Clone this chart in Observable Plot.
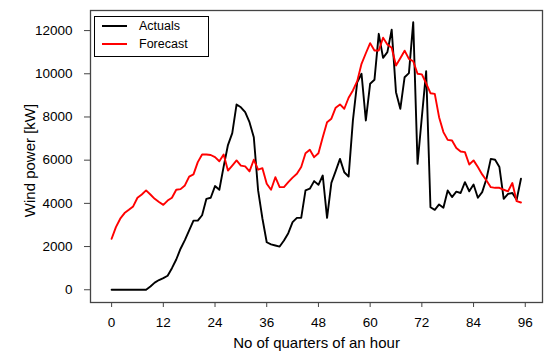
<!DOCTYPE html>
<html>
<head>
<meta charset="utf-8">
<script src="https://cdn.jsdelivr.net/npm/d3@7"></script>
<script src="https://cdn.jsdelivr.net/npm/@observablehq/plot@0.6"></script>
<style>
  html, body { margin: 0; padding: 0; background: #fff; }
  #wrap { position: relative; width: 550px; height: 358px; font-family: "Liberation Sans", Arial, sans-serif; }
  #legend { position: absolute; left: 94px; top: 16px; width: 113px; height: 39px; border: 1.5px solid #000; background: #fff; }
  .item { position: absolute; left: 0; height: 18px; display: flex; align-items: center; font-size: 12.5px; color: #000; }
  .item svg { margin-left: 7px; margin-right: 12px; }
</style>
</head>
<body>
<div id="wrap"></div>
<script>
// Data (index = quarter of an hour, 0..95)
const actuals = [
  0, 0, 0, 0, 0, 0, 0, 0, 0, 150,
  330, 450, 540, 650, 1000, 1400, 1900, 2300, 2750, 3200,
  3200, 3450, 4210, 4260, 4800, 4630, 5700, 6700, 7250, 8580,
  8450, 8220, 7760, 7060, 4600, 3300, 2200, 2100, 2050, 2000,
  2280, 2620, 3130, 3330, 3330, 4600, 4680, 5030, 4860, 5290,
  3330, 4950, 5490, 6060, 5440, 5240, 7840, 9610, 10000, 7840,
  9540, 9720, 11850, 10740, 11000, 12040, 9150, 8380, 9840, 10030,
  12390, 5830, 8000, 10120, 3820, 3700, 3950, 3800, 4600, 4290,
  4540, 4480, 4980, 4560, 4870, 4260, 4520, 5140, 6060, 6020,
  5680, 4210, 4440, 4480, 4170, 5140
];
const forecast = [
  2360, 2900, 3290, 3550, 3700, 3860, 4260, 4410, 4600, 4410,
  4210, 4060, 3930, 4130, 4260, 4630, 4660, 4830, 5240, 5340,
  5910, 6260, 6260, 6240, 6140, 5950, 6260, 5520, 5750, 5990,
  5750, 5710, 5480, 6020, 5560, 5630, 4910, 4630, 5210, 4750,
  4750, 4980, 5190, 5370, 5680, 6320, 6480, 6140, 6320, 7060,
  7760, 7920, 8430, 8580, 8380, 8890, 9230, 9660, 10460, 10950,
  11420, 11080, 11080, 11670, 11360, 11200, 10380, 10720, 11070, 10690,
  10580, 10000, 9970, 9560, 9100, 9070, 7990, 7300, 6940, 6910,
  6560, 6400, 6370, 5800, 5990, 5680, 5340, 5060, 4750, 4720,
  4720, 4630, 4560, 4940, 4100, 4040
];
const seriesNames = ["Actuals", "Forecast"];
const seriesColors = ["#000000", "#ff0000"];
const xTicks = [0, 12, 24, 36, 48, 60, 72, 84, 96];
const yTicks = [0, 2000, 4000, 6000, 8000, 10000, 12000];
const xTitle = "No of quarters of an hour";
const yTitle = "Wind power [kW]";

const chart = Plot.plot({
  width: 550,
  height: 358,
  marginLeft: 90,
  marginRight: 8,
  marginTop: 10,
  marginBottom: 56,
  style: { fontFamily: "Liberation Sans, Arial, sans-serif", fontSize: "13px", background: "#fff", color: "#000" },
  x: { domain: [-4.9, 100] },
  y: { domain: [-590, 12930] },
  marks: [
    Plot.axisX(xTicks, { tickSize: 5, tickPadding: 10, fontSize: 13.5, stroke: "#444", label: null, tickFormat: d3.format("d") }),
    Plot.axisY(yTicks, { tickSize: 6, tickPadding: 12, fontSize: 13.5, stroke: "#444", label: null, tickFormat: d3.format("d") }),
    Plot.line(actuals, { x: (d, i) => i, y: d => d, stroke: seriesColors[0], strokeWidth: 1.9 }),
    Plot.line(forecast, { x: (d, i) => i, y: d => d, stroke: seriesColors[1], strokeWidth: 1.9 }),
    Plot.frame({ stroke: "#444", strokeWidth: 1.3 }),
    Plot.text([xTitle], { text: d => d, frameAnchor: "bottom", textAnchor: "middle", lineAnchor: "middle", dy: 41, fontSize: 15, fill: "#000" }),
    Plot.text([yTitle], { text: d => d, frameAnchor: "left", textAnchor: "middle", lineAnchor: "middle", rotate: -90, dx: -60, dy: 4, fontSize: 15, fill: "#000" })
  ]
});
const wrap = document.getElementById("wrap");
wrap.appendChild(chart);

const legend = document.createElement("div");
legend.id = "legend";
seriesNames.forEach((name, k) => {
  const item = document.createElement("div");
  item.className = "item";
  item.style.top = (k === 0 ? 0 : 18) + "px";
  item.innerHTML = `<svg width="25" height="4"><line x1="0" x2="25" y1="2" y2="2" stroke="${seriesColors[k]}" stroke-width="2"/></svg><span>${name}</span>`;
  legend.appendChild(item);
});
wrap.appendChild(legend);
</script>
</body>
</html>
